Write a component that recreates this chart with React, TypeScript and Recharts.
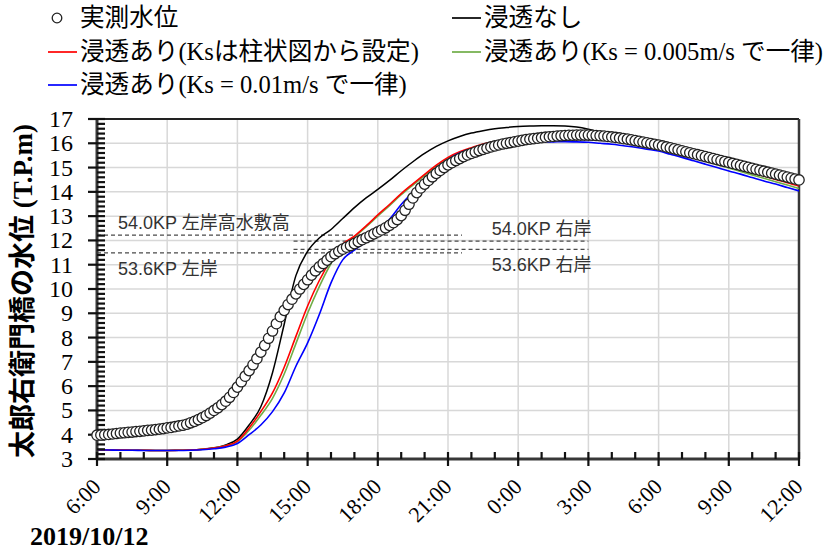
import React from 'react';
import { LineChart, Line, XAxis, YAxis, CartesianGrid, ReferenceLine } from 'recharts';

// hours since 2019/10/12 6:00
const xMajorTicks = [0, 3, 6, 9, 12, 15, 18, 21, 24, 27, 30];
const xTickLabels = ['6:00', '9:00', '12:00', '15:00', '18:00', '21:00', '0:00', '3:00', '6:00', '9:00', '12:00'];
const xAllTicks = Array.from({ length: 31 }, (_, i) => i);
const yMajorTicks = [3, 4, 5, 6, 7, 8, 9, 10, 11, 12, 13, 14, 15, 16, 17];
const yAllTicks = Array.from({ length: 71 }, (_, i) => Math.round((3 + i * 0.2) * 10) / 10);

// observed water level, every 10 minutes
const observed = [
  3.98, 3.99, 4.00, 4.01, 4.03, 4.05,
  4.07, 4.08, 4.10, 4.11, 4.13, 4.14,
  4.16, 4.18, 4.19, 4.21, 4.23, 4.25,
  4.28, 4.30, 4.33, 4.36, 4.39, 4.43,
  4.49, 4.55, 4.62, 4.70, 4.79, 4.89,
  5.00, 5.11, 5.24, 5.38, 5.54, 5.74,
  5.96, 6.18, 6.41, 6.64, 6.88, 7.13,
  7.40, 7.68, 7.97, 8.27, 8.57, 8.86,
  9.12, 9.36, 9.58, 9.80, 10.00, 10.19,
  10.38, 10.57, 10.75, 10.91, 11.05, 11.19,
  11.33, 11.45, 11.55, 11.64, 11.72, 11.79,
  11.87, 11.95, 12.03, 12.11, 12.19, 12.27,
  12.35, 12.43, 12.52, 12.62, 12.73, 12.86,
  13.02, 13.24, 13.49, 13.75, 13.97, 14.16,
  14.32, 14.47, 14.62, 14.76, 14.88, 15.00,
  15.11, 15.20, 15.29, 15.37, 15.45, 15.52,
  15.58, 15.64, 15.70, 15.75, 15.80, 15.85,
  15.89, 15.93, 15.97, 16.00, 16.03, 16.06,
  16.09, 16.12, 16.15, 16.17, 16.19, 16.21,
  16.23, 16.25, 16.27, 16.28, 16.30, 16.31,
  16.32, 16.33, 16.33, 16.34, 16.34, 16.34,
  16.34, 16.33, 16.32, 16.31, 16.30, 16.28,
  16.26, 16.24, 16.22, 16.19, 16.17, 16.14,
  16.11, 16.08, 16.05, 16.02, 15.99, 15.96,
  15.93, 15.89, 15.85, 15.81, 15.77, 15.73,
  15.69, 15.65, 15.61, 15.57, 15.53, 15.49,
  15.45, 15.41, 15.37, 15.33, 15.29, 15.25,
  15.21, 15.17, 15.13, 15.09, 15.05, 15.01,
  14.97, 14.93, 14.89, 14.85, 14.81, 14.77,
  14.73, 14.69, 14.65, 14.61, 14.57, 14.53,
  14.49,
];

// simulations, every 30 minutes
const noInfiltration = [
  3.38, 3.37, 3.37, 3.36, 3.36, 3.35, 3.35, 3.36, 3.37, 3.40, 3.46, 3.58,
  3.82, 4.40, 5.15, 6.55, 8.55, 10.55, 11.55, 12.10, 12.45, 12.90, 13.35, 13.75,
  14.10, 14.47, 14.87, 15.24, 15.58, 15.87, 16.10, 16.28, 16.42, 16.52, 16.60, 16.65,
  16.69, 16.71, 16.72, 16.72, 16.71, 16.67, 16.58, 16.46, 16.34, 16.26, 16.17, 16.07,
  15.96, 15.84, 15.72, 15.60, 15.48, 15.36, 15.24, 15.12, 15.00, 14.88, 14.76, 14.64,
  14.52,
];
const ksBoring = [
  3.38, 3.37, 3.37, 3.36, 3.36, 3.35, 3.35, 3.36, 3.37, 3.40, 3.45, 3.55,
  3.74, 4.28, 4.95, 5.72, 6.78, 8.05, 9.30, 10.35, 11.20, 11.85, 12.18, 12.60,
  13.05, 13.48, 13.93, 14.33, 14.72, 15.10, 15.42, 15.65, 15.82, 15.97, 16.06, 16.13,
  16.18, 16.22, 16.25, 16.27, 16.28, 16.27, 16.24, 16.20, 16.15, 16.09, 16.02, 15.94,
  15.85, 15.72, 15.59, 15.46, 15.32, 15.19, 15.05, 14.92, 14.78, 14.65, 14.51, 14.38,
  14.24,
];
const ks0005 = [
  3.38, 3.37, 3.37, 3.36, 3.36, 3.35, 3.35, 3.36, 3.37, 3.40, 3.45, 3.54,
  3.71, 4.18, 4.80, 5.50, 6.50, 7.75, 9.00, 10.10, 11.05, 11.80, 12.15, 12.56,
  13.00, 13.43, 13.88, 14.28, 14.67, 15.05, 15.37, 15.60, 15.78, 15.92, 16.02, 16.09,
  16.14, 16.18, 16.20, 16.22, 16.22, 16.21, 16.19, 16.15, 16.10, 16.04, 15.97, 15.89,
  15.80, 15.67, 15.54, 15.40, 15.27, 15.13, 14.98, 14.84, 14.70, 14.56, 14.42, 14.28,
  14.14,
];
const ks001 = [
  3.38, 3.37, 3.36, 3.36, 3.35, 3.35, 3.35, 3.35, 3.36, 3.38, 3.42, 3.49,
  3.64, 4.00, 4.40, 4.95, 5.72, 6.82, 7.78, 8.95, 10.25, 11.20, 11.60, 11.95,
  12.37, 12.87, 13.48, 14.00, 14.55, 14.98, 15.33, 15.60, 15.76, 15.86, 15.93, 15.98,
  16.01, 16.03, 16.05, 16.06, 16.07, 16.06, 16.04, 16.00, 15.96, 15.90, 15.84, 15.76,
  15.68, 15.55, 15.42, 15.28, 15.14, 15.00, 14.86, 14.73, 14.59, 14.45, 14.32, 14.18,
  14.04,
];

// reference levels (level, start hour, end hour)
const annoLeftHigh = { level: 12.22, from: 0, to: 15.6, text: '54.0KP 左岸高水敷高' };
const annoRightHigh = { level: 11.97, from: 8.4, to: 21.0, text: '54.0KP 右岸' };
const annoRightLow = { level: 11.63, from: 8.4, to: 21.0, text: '53.6KP 右岸' };
const annoLeftLow = { level: 11.49, from: 0, to: 15.6, text: '53.6KP 左岸' };

const obsData = observed.map((v, i) => ({ h: i / 6, v }));
const simData = noInfiltration.map((v, i) => ({
  h: i / 2,
  none: v,
  boring: ksBoring[i],
  k005: ks0005[i],
  k01: ks001[i],
}));
// tick-mark anchors: along the bottom axis and along the left axis
const xTickData = xAllTicks.map((h) => ({ h, t: 3 }));
const yTickData = yAllTicks.map((v) => ({ h: 0, t: v }));

const SERIF = '"Liberation Serif", "Times New Roman", serif';
const MIXED = '"Liberation Serif", "Noto Sans CJK JP", serif';
const SANS = '"Liberation Sans", "Noto Sans CJK JP", sans-serif';
const AXIS = '#383838';
const TICK_COLOR = '#111';

const isMajorY = (v: number) => Math.abs(v - Math.round(v)) < 1e-6;

const XLabel = (props: any) => {
  const { x, y, payload } = props;
  const idx = xMajorTicks.indexOf(payload.value);
  if (idx < 0) return <g />;
  const tx = x + 5;
  const ty = y + 29;
  return (
    <text x={tx} y={ty} transform={`rotate(-45 ${tx} ${ty})`} textAnchor="end" fontFamily={SERIF} fontSize={22} fill="#000">
      {xTickLabels[idx]}
    </text>
  );
};

const YLabel = (props: any) => {
  const { x, y, payload } = props;
  return (
    <text x={x - 24} y={y + 8} textAnchor="end" fontFamily={SERIF} fontSize={24} fill="#000">
      {payload.value}
    </text>
  );
};

const XTickMark = (p: any) => {
  const { cx, cy, payload } = p;
  if (cx == null || cy == null) return <g key={p.key} />;
  const major = xMajorTicks.indexOf(payload.h) >= 0;
  return <line key={p.key} x1={cx} x2={cx} y1={cy - 7} y2={major ? cy + 7 : cy} stroke={TICK_COLOR} strokeWidth={2.2} />;
};
const YTickMark = (p: any) => {
  const { cx, cy, payload } = p;
  if (cx == null || cy == null) return <g key={p.key} />;
  const major = isMajorY(payload.t);
  return <line key={p.key} x1={major ? cx - 9 : cx} x2={cx + 8} y1={cy} y2={cy} stroke={TICK_COLOR} strokeWidth={2.2} />;
};

const annoLabel = (text: string, side: 'left' | 'right', dy: number) => (props: any) => {
  const vb = props.viewBox || {};
  const x = side === 'left' ? vb.x + 21 : vb.x + vb.width + 3;
  return (
    <text x={x} y={vb.y + dy} textAnchor={side === 'left' ? 'start' : 'end'} fontFamily={SANS} fontSize={18} fill="#333">
      {text}
    </text>
  );
};

const LineMark = ({ color }: { color: string }) => (
  <svg width={32} height={26} style={{ display: 'block', flex: 'none' }}>
    <line x1={0} x2={29} y1={13} y2={13} stroke={color} strokeWidth={1.7} />
  </svg>
);
const CircleMark = () => (
  <svg width={32} height={26} style={{ display: 'block', flex: 'none' }}>
    <circle cx={9} cy={13} r={4.8} fill="#fff" stroke="#222" strokeWidth={1.3} />
  </svg>
);

const legendItems = [
  { left: 48, top: 5, mark: <CircleMark />, text: '実測水位' },
  { left: 452, top: 5, mark: <LineMark color="#000" />, text: '浸透なし' },
  { left: 48, top: 39, mark: <LineMark color="#ff0000" />, text: '浸透あり(Ksは柱状図から設定)' },
  { left: 452, top: 39, mark: <LineMark color="#70ad47" />, text: '浸透あり(Ks = 0.005m/s で一律)' },
  { left: 48, top: 72, mark: <LineMark color="#0000ff" />, text: '浸透あり(Ks = 0.01m/s で一律)' },
];

export default function App() {
  return (
    <div style={{ position: 'absolute', left: 0, top: 0, width: 829, height: 550, background: '#fff', overflow: 'hidden' }}>
      <LineChart width={829} height={550} margin={{ top: 119, right: 30, bottom: 0, left: 0 }}>
        <CartesianGrid
          stroke="#d8d8d8"
          strokeWidth={1.5}
          horizontalValues={yMajorTicks.slice(1, -1)}
          verticalValues={xMajorTicks.slice(1, -1)}
        />
        <XAxis
          dataKey="h"
          type="number"
          domain={[0, 30]}
          ticks={xMajorTicks}
          interval={0}
          tickSize={0}
          tickMargin={0}
          height={91}
          axisLine={{ stroke: AXIS, strokeWidth: 3 }}
          tickLine={false}
          tick={(p: any) => <XLabel {...p} />}
        />
        <YAxis
          type="number"
          domain={[3, 17]}
          ticks={yMajorTicks}
          interval={0}
          tickSize={0}
          tickMargin={0}
          width={97}
          axisLine={{ stroke: AXIS, strokeWidth: 3 }}
          tickLine={false}
          tick={(p: any) => <YLabel {...p} />}
        />
        <ReferenceLine y={17} stroke="#222" strokeWidth={2} ifOverflow="visible" />
        <ReferenceLine x={30} stroke={AXIS} strokeWidth={2.5} ifOverflow="visible" />
        {[annoLeftHigh, annoLeftLow].map((a, i) => (
          <ReferenceLine
            key={'l' + i}
            segment={[{ x: a.from, y: a.level }, { x: a.to, y: a.level }]}
            stroke="#4a4a4a"
            strokeWidth={1.2}
            strokeDasharray="4 3"
            label={annoLabel(a.text, 'left', i === 0 ? -6 : 22)}
          />
        ))}
        {[annoRightHigh, annoRightLow].map((a, i) => (
          <ReferenceLine
            key={'r' + i}
            segment={[{ x: a.from, y: a.level }, { x: a.to, y: a.level }]}
            stroke="#4a4a4a"
            strokeWidth={1.2}
            strokeDasharray="4 3"
            label={annoLabel(a.text, 'right', i === 0 ? -6 : 22)}
          />
        ))}
        <Line data={xTickData} dataKey="t" type="linear" stroke="none" legendType="none" dot={(p: any) => <XTickMark {...p} />} activeDot={false} isAnimationActive={false} />
        <Line data={yTickData} dataKey="t" type="linear" stroke="none" legendType="none" dot={(p: any) => <YTickMark {...p} />} activeDot={false} isAnimationActive={false} />
        <Line data={simData} dataKey="none" type="monotone" stroke="#000" strokeWidth={1.5} dot={false} isAnimationActive={false} />
        <Line data={simData} dataKey="k005" type="monotone" stroke="#70ad47" strokeWidth={1.6} dot={false} isAnimationActive={false} />
        <Line data={simData} dataKey="boring" type="monotone" stroke="#ff0000" strokeWidth={1.6} dot={false} isAnimationActive={false} />
        <Line data={simData} dataKey="k01" type="monotone" stroke="#0000ff" strokeWidth={1.6} dot={false} isAnimationActive={false} />
        <Line
          data={obsData}
          dataKey="v"
          stroke="none"
          dot={{ r: 5.2, fill: '#fff', stroke: '#222', strokeWidth: 1.3 }}
          isAnimationActive={false}
        />
      </LineChart>

      {legendItems.map((it, i) => (
        <div
          key={i}
          style={{
            position: 'absolute',
            left: it.left,
            top: it.top,
            whiteSpace: 'nowrap',
            fontFamily: MIXED,
            fontSize: 24.6,
            lineHeight: '26px',
            color: '#000',
            display: 'flex',
            alignItems: 'center',
          }}
        >
          {it.mark}
          <span>{it.text}</span>
        </div>
      ))}

      <div
        style={{
          position: 'absolute',
          left: 23,
          top: 291,
          transform: 'translate(-50%, -50%) rotate(-90deg)',
          whiteSpace: 'nowrap',
          fontFamily: MIXED,
          fontWeight: 'bold',
          fontSize: 27,
          lineHeight: '30px',
          color: '#000',
        }}
      >
        太郎右衛門橋の水位 (T.P.m)
      </div>

      <div
        style={{
          position: 'absolute',
          left: 30,
          top: 523,
          whiteSpace: 'nowrap',
          fontFamily: SERIF,
          fontWeight: 'bold',
          fontSize: 26,
          lineHeight: '27px',
          color: '#000',
        }}
      >
        2019/10/12
      </div>
    </div>
  );
}
